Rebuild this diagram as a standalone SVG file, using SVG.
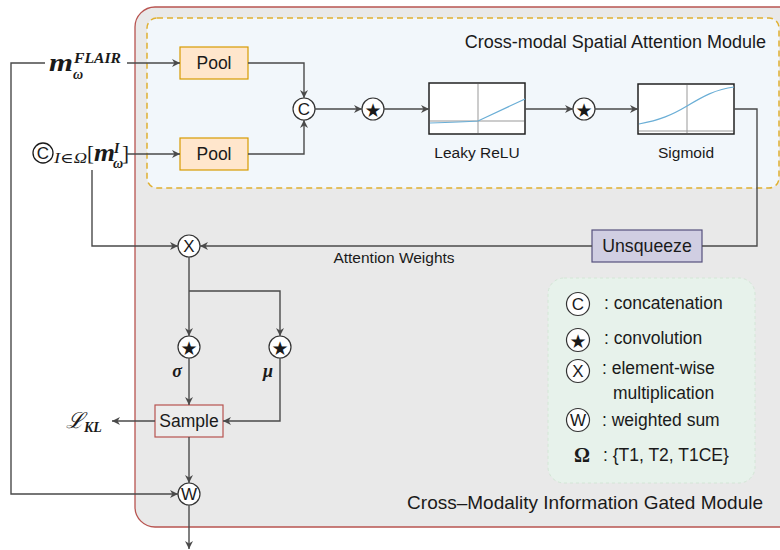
<svg xmlns="http://www.w3.org/2000/svg" width="780" height="550" viewBox="0 0 780 550">
  <style>
    .sans { font-family: "Liberation Sans", Arial, sans-serif; fill: #1a1a1a; }
    .math { font-family: "Liberation Serif", "DejaVu Serif", serif; fill: #1a1a1a; }
    .op circle { fill: #ffffff; stroke: #333333; stroke-width: 1.2; }
    .op text { font-family: "Liberation Sans", Arial, sans-serif; font-size: 17px; fill: #1a1a1a; text-anchor: middle; dominant-baseline: central; }
    .op text.star { font-family: "DejaVu Sans", sans-serif; font-size: 19px; }
    .pool rect { fill: #ffe6cc; stroke: #d79b00; stroke-width: 1.2; }
    .box text { text-anchor: middle; dominant-baseline: central; }
    .plot rect { fill: #ffffff; stroke: #222222; stroke-width: 1.5; }
    .plot line { stroke: #999999; stroke-width: 1; }
    .plot path { fill: none; stroke: #6aaed6; stroke-width: 1.2; }
    .conn path { fill: none; stroke: #4a4a4a; stroke-width: 1.4; }
    .legend-text { font-size: 17.5px; dominant-baseline: central; }
  </style>
  <defs>
    <marker id="arrow" viewBox="0 0 10 10" refX="10" refY="5" markerWidth="10" markerHeight="8" markerUnits="userSpaceOnUse" orient="auto">
      <path d="M0,0 L10,5 L0,10 L3,5 z" fill="#4a4a4a"/>
    </marker>
  </defs>

  <!-- module containers -->
  <g id="gated-module">
    <rect x="135" y="7" width="670" height="520" rx="20" fill="#e9e9e9" stroke="#b85450" stroke-width="1.3"/>
    <text x="763" y="502" text-anchor="end" dominant-baseline="central" class="sans" font-size="19">Cross–Modality Information Gated Module</text>
  </g>
  <g id="attention-module">
    <rect x="147" y="18" width="632" height="170" rx="10" fill="#f2f7fb" stroke="#e0b030" stroke-width="1.5" stroke-dasharray="6 4"/>
    <text x="766" y="42" text-anchor="end" dominant-baseline="central" class="sans" font-size="18">Cross-modal Spatial Attention Module</text>
  </g>

  <!-- legend -->
  <g id="legend">
    <rect x="548" y="278" width="207" height="205" rx="16" fill="#e7f2eb" stroke="#d3e6d6" stroke-width="1" stroke-dasharray="3 3"/>
    <g class="op"><circle cx="578" cy="304" r="11.5"/><text x="578" y="304">C</text></g>
    <text x="604" y="303" class="sans legend-text">: concatenation</text>
    <g class="op"><circle cx="578" cy="340" r="11.5"/><text class="star" x="578" y="341">★</text></g>
    <text x="604" y="338" class="sans legend-text">: convolution</text>
    <g class="op"><circle cx="578" cy="371" r="11.5"/><text x="578" y="371">X</text></g>
    <text x="602" y="368" class="sans legend-text">: element-wise</text>
    <text x="613" y="393" class="sans legend-text">multiplication</text>
    <g class="op"><circle cx="578" cy="420" r="11.5"/><text x="578" y="420">W</text></g>
    <text x="602" y="420" class="sans legend-text">: weighted sum</text>
    <text x="582" y="455" text-anchor="middle" dominant-baseline="central" class="math" font-size="20" font-weight="bold">Ω</text>
    <text x="603" y="455" class="sans legend-text">: {T1, T2, T1CE}</text>
  </g>

  <!-- inputs -->
  <g id="input-flair">
    <text class="math" x="49" y="71" font-size="25" font-weight="bold" font-style="italic" textLength="24" lengthAdjust="spacingAndGlyphs">m</text>
    <text class="math" x="73" y="79" font-size="14" font-weight="bold" font-style="italic">ω</text>
    <text class="math" x="74" y="63" font-size="14" font-weight="bold" font-style="italic" textLength="47" lengthAdjust="spacingAndGlyphs">FLAIR</text>
  </g>
  <g id="input-others">
    <circle cx="43" cy="153" r="10" fill="none" stroke="#1a1a1a" stroke-width="1.3"/>
    <text class="sans" x="43" y="153" font-size="17" text-anchor="middle" dominant-baseline="central">C</text>
    <text class="math" x="54" y="163" font-size="14" font-style="italic" textLength="33" lengthAdjust="spacingAndGlyphs">I∈Ω</text>
    <text class="math" x="87" y="160" font-size="21">[</text>
    <text class="math" x="94" y="161" font-size="25" font-weight="bold" font-style="italic" textLength="21" lengthAdjust="spacingAndGlyphs">m</text>
    <text class="math" x="114" y="153" font-size="14" font-weight="bold" font-style="italic">I</text>
    <text class="math" x="113" y="168" font-size="14" font-weight="bold" font-style="italic">ω</text>
    <text class="math" x="122" y="160" font-size="21">]</text>
  </g>

  <!-- attention branch nodes -->
  <g id="pool-flair" class="pool box">
    <rect x="180" y="47" width="68" height="32"/>
    <text class="sans" x="214" y="63" font-size="17.5">Pool</text>
  </g>
  <g id="pool-others" class="pool box">
    <rect x="180" y="138" width="68" height="32"/>
    <text class="sans" x="214" y="154" font-size="17.5">Pool</text>
  </g>
  <g id="concat" class="op"><circle cx="304" cy="109" r="11"/><text x="304" y="109">C</text></g>
  <g id="conv-1" class="op"><circle cx="373" cy="109" r="11"/><text class="star" x="373" y="110">★</text></g>
  <g id="leaky-relu" class="plot">
    <rect x="429" y="83" width="96" height="51"/>
    <line x1="478" y1="84" x2="478" y2="133"/>
    <line x1="430" y1="121" x2="524" y2="121"/>
    <path d="M430,123 C450,122.5 465,122 478,121 L525,99"/>
    <text class="sans" x="477" y="152" font-size="15.5" text-anchor="middle" dominant-baseline="central">Leaky ReLU</text>
  </g>
  <g id="conv-2" class="op"><circle cx="584" cy="109" r="11"/><text class="star" x="584" y="110">★</text></g>
  <g id="sigmoid" class="plot">
    <rect x="638" y="84" width="96" height="50"/>
    <line x1="687" y1="85" x2="687" y2="133"/>
    <line x1="639" y1="131" x2="733" y2="131"/>
    <path d="M639,124 C660,120 672,115 687,106 C702,97 716,89 734,87"/>
    <text class="sans" x="686" y="152" font-size="15.5" text-anchor="middle" dominant-baseline="central">Sigmoid</text>
  </g>

  <!-- gating nodes -->
  <g id="unsqueeze" class="box">
    <rect x="592" y="230" width="110" height="32" fill="#d0cee2" stroke="#56517e" stroke-width="1.2"/>
    <text class="sans" x="647" y="246" font-size="17.7">Unsqueeze</text>
  </g>
  <g id="multiply" class="op"><circle cx="189" cy="246" r="11"/><text x="189" y="246">X</text></g>
  <g id="conv-sigma" class="op"><circle cx="189" cy="347" r="11"/><text class="star" x="189" y="348">★</text></g>
  <g id="conv-mu" class="op"><circle cx="280" cy="347" r="11"/><text class="star" x="280" y="348">★</text></g>
  <g id="sample" class="box">
    <rect x="155" y="405" width="68" height="32" fill="#ececec" stroke="#b85450" stroke-width="1.2"/>
    <text class="sans" x="189" y="421" font-size="17.5">Sample</text>
  </g>
  <g id="weighted-sum" class="op"><circle cx="189" cy="494" r="11"/><text x="189" y="494">W</text></g>

  <!-- connectors -->
  <g id="connectors" class="conn">
    <path d="M127,63 H180" marker-end="url(#arrow)"/>
    <path d="M45,63 H11 V494 H178" marker-end="url(#arrow)"/>
    <path d="M127,154 H180" marker-end="url(#arrow)"/>
    <path d="M248,63 H304 V98" marker-end="url(#arrow)"/>
    <path d="M248,154 H304 V120" marker-end="url(#arrow)"/>
    <path d="M315,109 H362" marker-end="url(#arrow)"/>
    <path d="M384,109 H429" marker-end="url(#arrow)"/>
    <path d="M525,109 H573" marker-end="url(#arrow)"/>
    <path d="M595,109 H638" marker-end="url(#arrow)"/>
    <path d="M734,109 H757 V246 H702"/>
    <path d="M592,246 H200" marker-end="url(#arrow)"/>
    <path d="M92,170 V246 H178" marker-end="url(#arrow)"/>
    <path d="M189,257 V336" marker-end="url(#arrow)"/>
    <path d="M189,291 H280 V336" marker-end="url(#arrow)"/>
    <path d="M189,358 V405" marker-end="url(#arrow)"/>
    <path d="M280,358 V421 H223" marker-end="url(#arrow)"/>
    <path d="M155,421 H112" marker-end="url(#arrow)"/>
    <path d="M189,437 V483" marker-end="url(#arrow)"/>
    <path d="M189,505 V549" marker-end="url(#arrow)"/>
  </g>

  <!-- connector labels -->
  <g id="labels">
    <text class="sans" x="394" y="257" font-size="15.5" text-anchor="middle" dominant-baseline="central">Attention Weights</text>
    <text class="math" x="177" y="377" font-size="18" font-weight="bold" font-style="italic" text-anchor="middle">σ</text>
    <text class="math" x="268" y="377" font-size="18" font-weight="bold" font-style="italic" text-anchor="middle">μ</text>
    <text class="math" x="66" y="428" font-size="22" font-style="italic">ℒ</text>
    <text class="math" x="84" y="432" font-size="14" font-weight="bold" font-style="italic">KL</text>
  </g>
</svg>
